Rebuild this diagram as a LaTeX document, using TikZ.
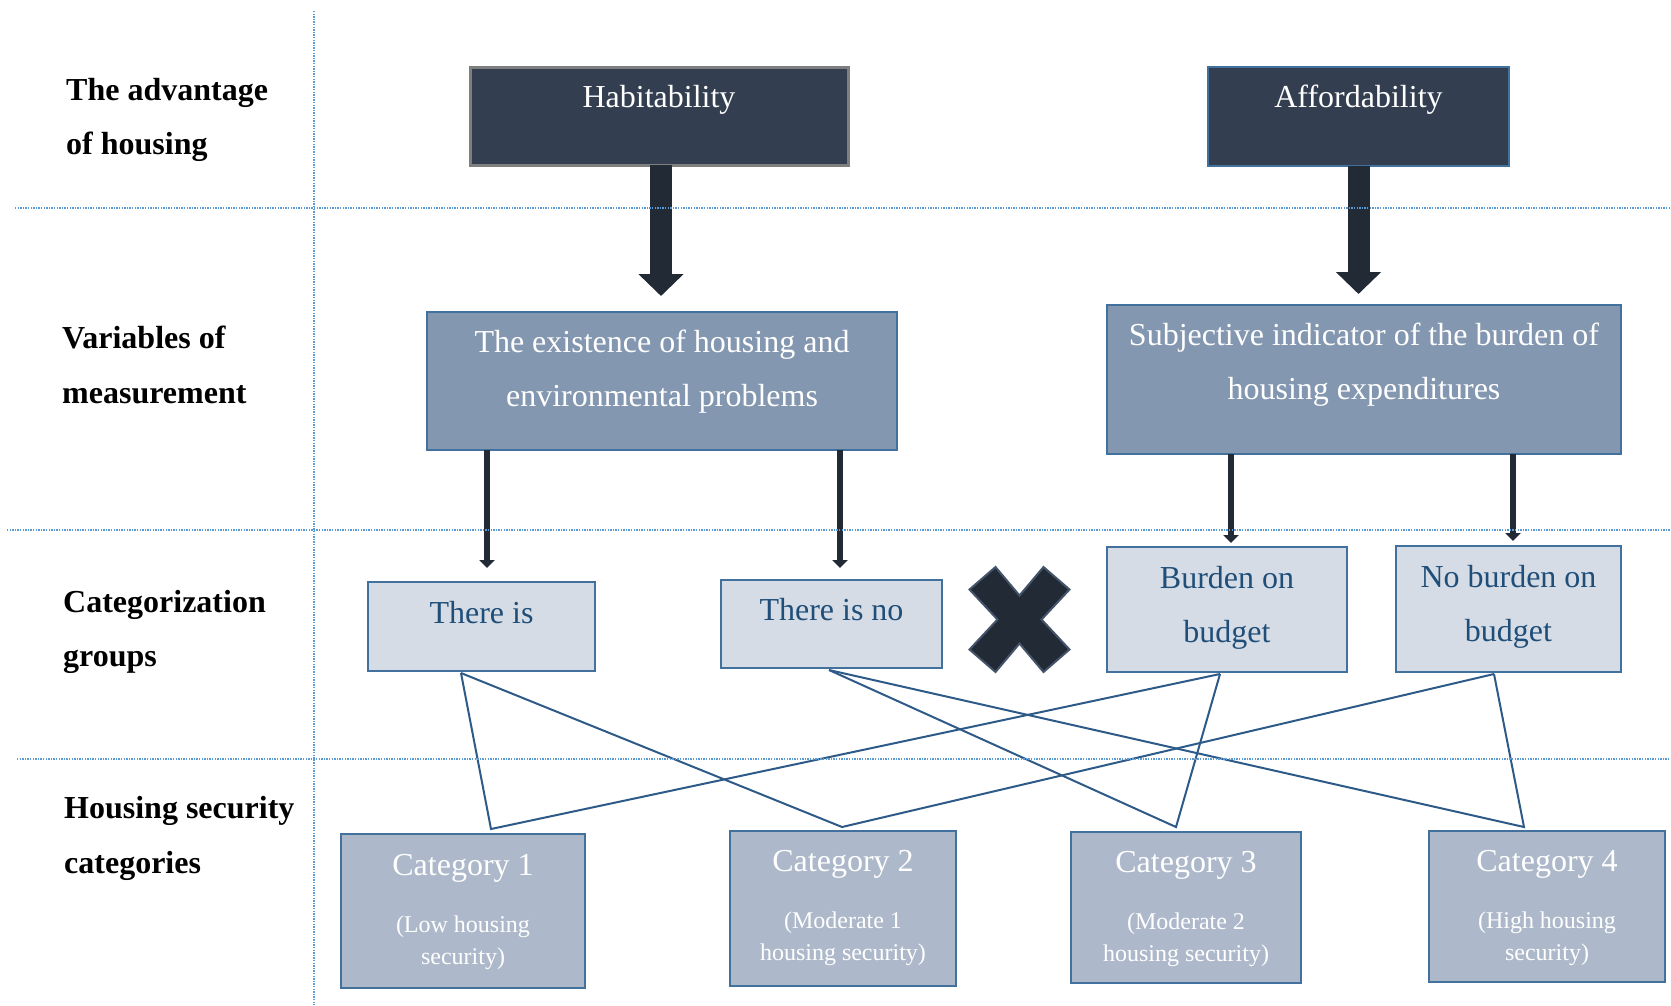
\documentclass[tikz,border=0pt]{standalone}
\usepackage{fontspec}
\setmainfont{Liberation Serif}
\usetikzlibrary{arrows.meta,calc}
\definecolor{navy}{HTML}{333F50}
\definecolor{arrowc}{HTML}{222A35}
\definecolor{midfill}{HTML}{8497B0}
\definecolor{lightfill}{HTML}{D6DCE5}
\definecolor{catfill}{HTML}{ADB9CA}
\definecolor{bordc}{HTML}{41719C}
\definecolor{textblue}{HTML}{1F4E79}
\definecolor{linkc}{HTML}{2E5A88}
\definecolor{gridc}{HTML}{5B9BD5}
\definecolor{xedge}{HTML}{44546A}
\definecolor{grayedge}{HTML}{7F7F7F}
\newcommand{\boxtext}[4]{\parbox[c][#1][t]{#2}{\centering\rule{0pt}{#3}#4}}
\tikzset{
  anybox/.style={inner sep=0pt, outer sep=0pt, line width=2.5pt, font=\fontsize{32}{54}\selectfont},
  topbox/.style={anybox, fill=navy, text=white},
  midbox/.style={anybox, fill=midfill, draw=bordc, text=white},
  lightbox/.style={anybox, fill=lightfill, draw=bordc, text=textblue},
  catbox/.style={anybox, fill=catfill, draw=bordc, text=white},
  rowlabel/.style={anchor=base west, inner sep=0pt, font=\bfseries\fontsize{32}{54}\selectfont},
  bigarrow/.style={draw=arrowc, line width=22pt, -{Triangle[length=22pt,width=44pt]}},
  smallarrow/.style={draw=arrowc, line width=6pt, -{Triangle[length=8pt,width=15pt]}},
  link/.style={draw=linkc, line width=2pt, line join=miter},
  gridline/.style={draw=gridc, line width=1.4pt, dash pattern=on 1.4pt off 1.2pt},
  xmark/.style={fill=arrowc, draw=xedge, line width=2pt, line join=miter}
}
\begin{document}
\begin{tikzpicture}[x=1pt,y=-1pt]
\useasboundingbox (0,0) rectangle (1671,1005);

% row labels
\node[rowlabel] (l1) at (66,100) {\parbox[t]{245pt}{The advantage\\of housing}};
\node[rowlabel] (l2) at (62,348) {\parbox[t]{245pt}{\baselineskip=55pt Variables of\\measurement}};
\node[rowlabel] (l3) at (63,612) {\parbox[t]{245pt}{Categorization\\groups}};
\node[rowlabel] (l4) at (64,818) {\parbox[t]{245pt}{\baselineskip=55pt Housing security\\categories}};

% top row
\node[topbox, draw=grayedge, line width=3pt] (hab) at (659,116) {\boxtext{98pt}{378pt}{40pt}{Habitability}};
\node[topbox, draw=bordc] (aff) at (1358.5,116.5) {\boxtext{99pt}{301pt}{40pt}{Affordability}};

% variables
\node[midbox] (exist) at (662,381) {\boxtext{138pt}{470pt}{40pt}{The existence of housing and\\environmental problems}};
\node[midbox] (subj) at (1364,379.5) {\boxtext{149pt}{514pt}{40pt}{Subjective indicator of the burden of\\housing expenditures}};

% groups
\node[lightbox] (thereis) at (481.5,626.5) {\boxtext{89pt}{227pt}{41pt}{There is}};
\node[lightbox] (thereno) at (831.5,624) {\boxtext{88pt}{221pt}{40pt}{There is no}};
\node[lightbox] (burden) at (1227,609.5) {\boxtext{125pt}{240pt}{41pt}{Burden on\\budget}};
\node[lightbox] (noburden) at (1508.5,609) {\boxtext{126pt}{225pt}{41pt}{No burden on\\budget}};

% categories
\node[catbox] (cat1) at (463,911) {\boxtext{154pt}{244pt}{41pt}{Category 1\par\vspace{25pt}\fontsize{24}{32}\selectfont(Low housing\\security)}};
\node[catbox] (cat2) at (843,908.5) {\boxtext{155pt}{226pt}{40pt}{Category 2\par\vspace{25pt}\fontsize{24}{32}\selectfont(Moderate 1\\housing security)}};
\node[catbox] (cat3) at (1186,907.5) {\boxtext{151pt}{230pt}{40pt}{Category 3\par\vspace{25pt}\fontsize{24}{32}\selectfont(Moderate 2\\housing security)}};
\node[catbox] (cat4) at (1547,906.5) {\boxtext{151pt}{236pt}{40pt}{Category 4\par\vspace{25pt}\fontsize{24}{32}\selectfont(High housing\\security)}};

% big arrows
\coordinate (h0) at ($(hab.south)+(2,0)$);
\draw[bigarrow] (h0) -- ($(h0 |- exist.north)+(0,-16)$);
\draw[bigarrow] (aff.south) -- ($(aff.south |- subj.north)+(0,-11)$);

% small arrows
\coordinate (s1) at ($(exist.south)+(-175,0)$);
\coordinate (s2) at ($(exist.south)+(178,0)$);
\coordinate (s3) at ($(subj.south)+(-133,0)$);
\coordinate (s4) at ($(subj.south)+(149,0)$);
\draw[smallarrow] (s1) -- ($(s1 |- thereis.north)+(0,-14)$);
\draw[smallarrow] (s2) -- ($(s2 |- thereno.north)+(0,-12)$);
\draw[smallarrow] (s3) -- ($(s3 |- burden.north)+(0,-4)$);
\draw[smallarrow] (s4) -- ($(s4 |- noburden.north)+(0,-5)$);

% X mark
\begin{scope}[shift={(1019.5,619.5)}]
\draw[xmark] (-50,-30) -- (-24,-52.5) -- (0,-24) -- (24,-52.5) -- (50,-30) -- (22,0)
  -- (50,30) -- (24,52.5) -- (0,24) -- (-24,52.5) -- (-50,30) -- (-22,0) -- cycle;
\end{scope}

% link anchors
\coordinate (tA) at ($(thereis.south)+(-20.5,2)$);
\coordinate (tB) at ($(thereno.south)+(-2.5,2)$);
\coordinate (tC) at ($(burden.south)+(-7,2)$);
\coordinate (tD) at ($(noburden.south)+(-14.5,2)$);
\coordinate (b1) at ($(cat1.north)+(28,-5)$);
\coordinate (b2) at ($(cat2.north)+(-1,-4)$);
\coordinate (b3) at ($(cat3.north)+(-10,-5)$);
\coordinate (b4) at ($(cat4.north)+(-23,-4)$);
\draw[link] (tA) -- (b1) -- (tC);
\draw[link] (tA) -- (b2) -- (tD);
\draw[link] (tB) -- (b3) -- (tC);
\draw[link] (tB) -- (b4) -- (tD);

% grid lines
\draw[gridline] (314,11) -- (314,1005);
\draw[gridline] (15,208) -- (1671,208);
\draw[gridline] (7,530) -- (1671,530);
\draw[gridline] (17,759) -- (1671,759);
\end{tikzpicture}
\end{document}
